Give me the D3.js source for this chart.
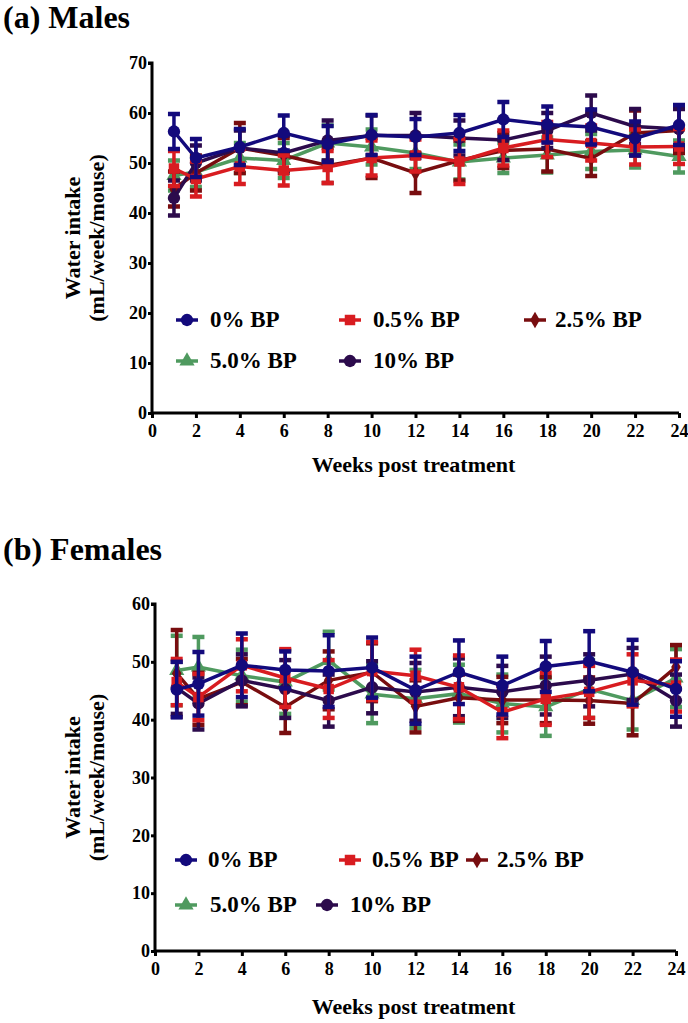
<!DOCTYPE html>
<html><head><meta charset="utf-8">
<script src="https://cdn.jsdelivr.net/npm/d3@7"></script>
<style>body{margin:0;background:#fff}svg{display:block}svg text{font-family:"Liberation Serif","Times New Roman",Times,"DejaVu Serif",serif !important;font-weight:bold;fill:#000}</style>
</head><body>
<script>
const weeks = [1,2,4,6,8,10,12,14,16,18,20,22,24];
const seriesNames = ["0% BP","0.5% BP","2.5% BP","5.0% BP","10% BP"];
const seriesColors = ["#130a7c","#d81c20","#780d0f","#4f9a5f","#2c0b4c"];
const seriesSymbols = ["circle","square","diamond","triangle","circle"];
// Males
const m0 = [56.3,51.0,53.2,56.0,53.8,55.6,55.2,56.0,58.7,57.7,57.2,54.9,57.6];
const m05 = [48.9,46.8,49.3,48.5,49.2,51.0,51.5,50.3,53.0,54.7,54.0,53.2,53.3];
const m25 = [44.8,48.0,53.0,51.5,49.5,51.0,48.0,50.5,52.5,52.8,50.9,56.0,56.5];
const m5 = [47.5,48.2,51.0,50.5,54.0,53.2,52.0,50.2,51.0,51.6,52.3,52.6,51.3];
const m10 = [43.0,50.0,53.0,52.0,54.5,55.5,55.5,55.0,54.6,56.5,60.0,57.3,56.8];
const mErr0 = [3.5,3.8,3.6,3.5,3.6,4.0,3.6,3.6,3.5,3.6,3.5,3.4,4.0];
const mErr05 = [3.5,3.5,3.5,3.0,3.2,3.5,3.2,4.5,3.5,3.5,3.5,3.5,3.5];
const mErr25 = [3.5,3.5,5.0,3.5,3.5,4.0,4.0,4.0,3.5,4.5,3.5,4.5,4.5];
const mErr5 = [3.0,3.0,3.0,3.5,3.5,3.5,3.2,3.5,3.0,3.5,3.5,3.5,3.2];
const mErr10 = [3.5,3.5,3.5,3.5,4.0,4.0,4.5,3.5,4.0,3.5,3.5,3.5,4.0];
// Females
const f0 = [45.2,46.2,49.4,48.6,48.4,49.0,45.1,48.2,45.9,49.2,50.1,48.2,45.3];
const f05 = [46.5,43.9,49.4,47.2,45.3,48.4,47.6,45.6,41.3,43.6,44.8,46.8,45.9];
const f25 = [48.0,43.6,46.5,42.2,46.8,48.2,42.3,43.8,43.4,43.4,43.3,42.8,49.1];
const f5 = [48.5,49.1,47.6,46.5,50.2,44.4,43.6,44.5,42.8,42.2,45.3,43.3,47.2];
const f10 = [45.5,42.8,46.8,45.3,43.3,45.6,44.8,45.6,44.8,45.9,46.8,47.9,43.3];
const fErr0 = [4.8,5.5,5.5,3.2,6.2,5.2,5.8,5.5,5.0,4.4,5.2,5.6,4.8];
const fErr05 = [4.0,4.0,4.5,5.0,5.0,5.0,4.5,5.5,4.5,4.5,4.5,4.5,4.5];
const fErr25 = [7.5,4.5,4.0,4.5,5.0,5.0,4.5,4.0,4.0,4.0,4.0,5.5,3.8];
const fErr5 = [6.0,5.2,4.5,5.5,5.0,5.0,5.0,5.0,5.0,5.0,5.0,5.0,5.0];
const fErr10 = [4.5,4.5,4.5,5.0,4.5,4.5,5.0,5.0,4.5,5.0,4.5,4.5,4.5];
const xTicks = [0,2,4,6,8,10,12,14,16,18,20,22,24];
const maleYTicks = [0,10,20,30,40,50,60,70];
const femaleYTicks = [0,10,20,30,40,50,60];

const W = 688, H = 1023;
const svg = d3.select("body").append("svg").attr("width", W).attr("height", H);
const FONT = '"Liberation Serif","Times New Roman",Times,serif';

const symbolType = {circle: d3.symbolCircle, square: d3.symbolSquare, diamond: d3.symbolDiamond, triangle: d3.symbolTriangle};
const symbolSize = {circle: 120, square: 110, diamond: 80, triangle: 100};

function panel(cfg) {
  const g = svg.append("g");
  const x = d3.scaleLinear().domain([0,24]).range([cfg.x0, cfg.x1]);
  const y = d3.scaleLinear().domain([0, cfg.ymax]).range([cfg.y0, cfg.y1]);
  g.append("text").attr("x", 3).attr("y", cfg.titleY).attr("font-size", 32).attr("font-family", FONT).text(cfg.title);
  const ya = g.append("g").attr("transform", `translate(${cfg.x0},0)`)
    .call(d3.axisLeft(y).tickValues(cfg.yTicks).tickSize(4).tickPadding(1).tickFormat(d3.format("d")));
  const xa = g.append("g").attr("transform", `translate(0,${cfg.y0})`)
    .call(d3.axisBottom(x).tickValues(xTicks).tickSize(5).tickPadding(6).tickFormat(d3.format("d")));
  [ya, xa].forEach(a => {
    a.attr("font-family", FONT);
    a.select(".domain").attr("stroke-width", 3).attr("stroke", "#000");
    a.selectAll(".tick line").attr("stroke-width", 3).attr("stroke", "#000");
    a.selectAll(".tick text").attr("font-size", 18).attr("font-family", FONT).attr("font-weight", "bold").attr("fill", "#000");
  });
  ya.select(".domain").attr("d", `M-4,${cfg.y1}H0V${cfg.y0}`);
  xa.select(".domain").attr("d", `M${cfg.x0},0H${cfg.x1}`);
  g.append("text").attr("x", (cfg.x0 + cfg.x1) / 2 - 2).attr("y", cfg.xTitleY).attr("text-anchor", "middle").attr("font-size", 22).attr("font-family", FONT).text("Weeks post treatment");
  const cy = (cfg.y0 + cfg.y1) / 2 + cfg.yTitleShift;
  g.append("text").attr("transform", `translate(${cfg.yTitleX1},${cy}) rotate(-90)`).attr("text-anchor", "middle").attr("font-size", 22).attr("font-family", FONT).text("Water intake");
  g.append("text").attr("transform", `translate(${cfg.yTitleX2},${cy}) rotate(-90)`).attr("text-anchor", "middle").attr("font-size", 22).attr("font-family", FONT).text("(mL/week/mouse)");

  const order = [3, 2, 4, 1, 0];
  const line = d3.line().x((d, i) => x(weeks[i])).y(d => y(d));
  order.forEach(si => {
    const vals = cfg.data[si], errs = cfg.err[si], col = seriesColors[si];
    const sg = g.append("g");
    const pts = vals.map((v, i) => ({w: weeks[i], v, e: errs[i]}));
    sg.selectAll("line.eb").data(pts).join("line").attr("class", "eb")
      .attr("x1", d => x(d.w)).attr("x2", d => x(d.w))
      .attr("y1", d => y(d.v - d.e)).attr("y2", d => y(d.v + d.e))
      .attr("stroke", col).attr("stroke-width", 3.5);
    ["up", "dn"].forEach(k => {
      sg.selectAll("line.cap" + k).data(pts).join("line").attr("class", "cap" + k)
        .attr("x1", d => x(d.w) - 6).attr("x2", d => x(d.w) + 6)
        .attr("y1", d => y(k === "up" ? d.v + d.e : d.v - d.e))
        .attr("y2", d => y(k === "up" ? d.v + d.e : d.v - d.e))
        .attr("stroke", col).attr("stroke-width", 4.5);
    });
    sg.append("path").datum(vals).attr("d", line).attr("fill", "none").attr("stroke", col).attr("stroke-width", 3.5);
    const sym = seriesSymbols[si];
    sg.selectAll("path.mk").data(pts).join("path").attr("class", "mk")
      .attr("transform", d => `translate(${x(d.w)},${y(d.v)})`)
      .attr("d", d3.symbol().type(symbolType[sym]).size(symbolSize[sym])).attr("fill", col);
  });
  cfg.legend.forEach((L, i) => {
    const col = seriesColors[i], sym = seriesSymbols[i];
    const lg = g.append("g").attr("transform", `translate(${L[0]},${L[1]})`);
    lg.append("line").attr("x1", -11).attr("x2", 11).attr("stroke", col).attr("stroke-width", 3.5);
    lg.append("path").attr("d", d3.symbol().type(symbolType[sym]).size(symbolSize[sym])).attr("fill", col);
    lg.append("text").attr("x", L[2]).attr("y", 7).attr("font-size", 23).attr("font-family", FONT).text(seriesNames[i]);
  });
}

panel({title: "(a) Males", titleY: 28, x0: 152, x1: 679, y0: 413, y1: 63, ymax: 70,
  yTicks: maleYTicks, xTitleY: 472, yTitleX1: 80, yTitleX2: 104, yTitleShift: 0,
  data: [m0, m05, m25, m5, m10], err: [mErr0, mErr05, mErr25, mErr5, mErr10],
  legend: [[187,320,23],[350,320,23],[535,320,20],[187,361,23],[350,361,23]]});
panel({title: "(b) Females", titleY: 560, x0: 155, x1: 676, y0: 951, y1: 604, ymax: 60,
  yTicks: femaleYTicks, xTitleY: 1014, yTitleX1: 80, yTitleX2: 104, yTitleShift: 0,
  data: [f0, f05, f25, f5, f10], err: [fErr0, fErr05, fErr25, fErr5, fErr10],
  legend: [[186,860,22],[350,860,22],[477,860,20],[186,905,24],[327,905,23]]});
</script>
</body></html>
